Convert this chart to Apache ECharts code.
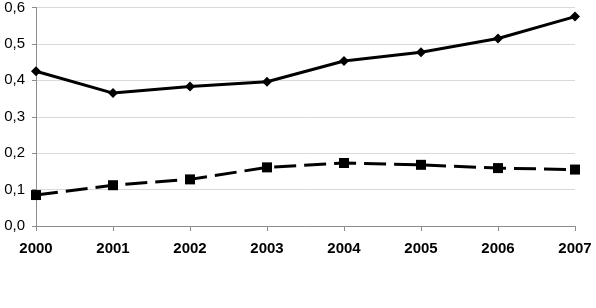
<!DOCTYPE html>
<html>
<head>
<meta charset="UTF-8">
<script src="https://cdn.jsdelivr.net/npm/echarts@6/dist/echarts.min.js"></script>
<style>
  html, body { margin: 0; padding: 0; background: #fff; }
  #chart { width: 596px; height: 308px; }
</style>
</head>
<body>
<div id="chart"></div>
<script>
var years = ['2000', '2001', '2002', '2003', '2004', '2005', '2006', '2007'];
var solidSeries = [0.425, 0.365, 0.383, 0.396, 0.453, 0.477, 0.515, 0.575];
var dashedSeries = [0.085, 0.112, 0.128, 0.161, 0.173, 0.168, 0.159, 0.155];

var chart = echarts.init(document.getElementById('chart'));
chart.setOption({
    animation: false,
    backgroundColor: '#fff',
    grid: { left: 36, right: 21, top: 6, bottom: 82 },
    xAxis: {
        type: 'category',
        data: years,
        boundaryGap: false,
        axisLine: { lineStyle: { color: '#8c8c8c', width: 1 } },
        axisTick: { alignWithLabel: true, length: 5, lineStyle: { color: '#8c8c8c' } },
        axisLabel: {
            color: '#000', fontFamily: 'Liberation Sans, Arial', fontWeight: 'bold',
            fontSize: 15, margin: 15
        }
    },
    yAxis: {
        type: 'value',
        min: 0, max: 0.6, interval: 0.1,
        axisLine: { show: true, lineStyle: { color: '#8c8c8c', width: 1 } },
        axisTick: { show: true, length: 4, lineStyle: { color: '#8c8c8c' } },
        splitLine: { lineStyle: { color: '#d9d9d9', width: 1 } },
        axisLabel: {
            color: '#000', fontFamily: 'Liberation Sans, Arial', fontSize: 15, margin: 11,
            formatter: function (v) { return v.toFixed(1).replace('.', ','); }
        }
    },
    series: [{
        type: 'line',
        data: solidSeries,
        symbol: 'diamond',
        symbolSize: 10,
        itemStyle: { color: '#000' },
        lineStyle: { color: '#000', width: 3 }
    }, {
        type: 'line',
        data: dashedSeries,
        symbol: 'rect',
        symbolSize: 10,
        itemStyle: { color: '#000' },
        lineStyle: { color: '#000', width: 3, type: [22, 8] }
    }]
});
</script>
</body>
</html>
